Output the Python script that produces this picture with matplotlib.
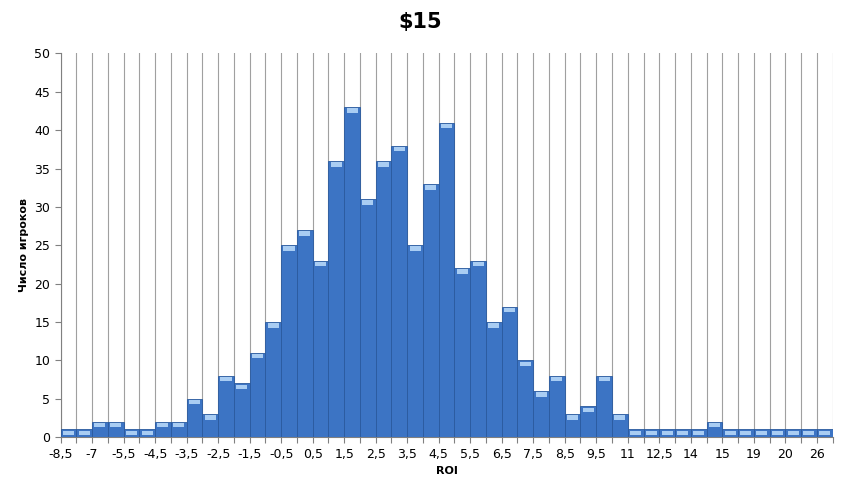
import numpy as np
import matplotlib.pyplot as plt

counts = [1, 1, 2, 2, 1, 1, 2, 2, 5, 3,
          8, 7, 11, 15, 25, 27, 23, 36, 43, 31,
          36, 38, 25, 33, 41, 22, 23, 15, 17, 10,
          6, 8, 3, 4, 8, 3, 1, 1, 1, 1,
          1, 2, 1, 1, 1, 1, 1, 1, 1]
tick_labels = ['-8,5', '-7', '-5,5', '-4,5', '-3,5', '-2,5', '-1,5', '-0,5', '0,5',
               '1,5', '2,5', '3,5', '4,5', '5,5', '6,5', '7,5', '8,5', '9,5',
               '11', '12,5', '14', '15', '19', '20', '26']

fig, ax = plt.subplots(figsize=(8.41, 4.95), dpi=100)
fig.subplots_adjust(left=0.072, right=0.99, top=0.892, bottom=0.117)

n = len(counts)
x = np.arange(n)
ax.bar(x, counts, width=1.0, align='edge', color='#3c74c4', edgecolor='#2a5a9e', linewidth=0.6, zorder=3)
# light cap on each bar
ax.bar(x + 0.15, [0.6] * n, bottom=np.array(counts) - 0.75, width=0.7, align='edge',
       color='#a9cdf3', linewidth=0, zorder=4)

ax.set_xlim(0, n)
ax.set_ylim(0, 50)
ax.set_yticks(range(0, 51, 5))
ax.set_xticks(range(n + 1), minor=False)
ax.set_xticklabels([tick_labels[i // 2] if i % 2 == 0 and i // 2 < len(tick_labels) else '' for i in range(n + 1)])
ax.grid(axis='x', color='#a0a0a0', linewidth=0.8, zorder=0)
ax.tick_params(labelsize=9, length=4, color='#808080')
for s in ['top', 'right']:
    ax.spines[s].set_visible(False)
for s in ['left', 'bottom']:
    ax.spines[s].set_color('#808080')

ax.set_xlabel('ROI', fontsize=8, fontweight='bold')
ax.set_ylabel('Число игроков', fontsize=8, fontweight='bold')
fig.suptitle('$15', fontsize=15, fontweight='bold', y=0.975)

fig.savefig('out.png')
